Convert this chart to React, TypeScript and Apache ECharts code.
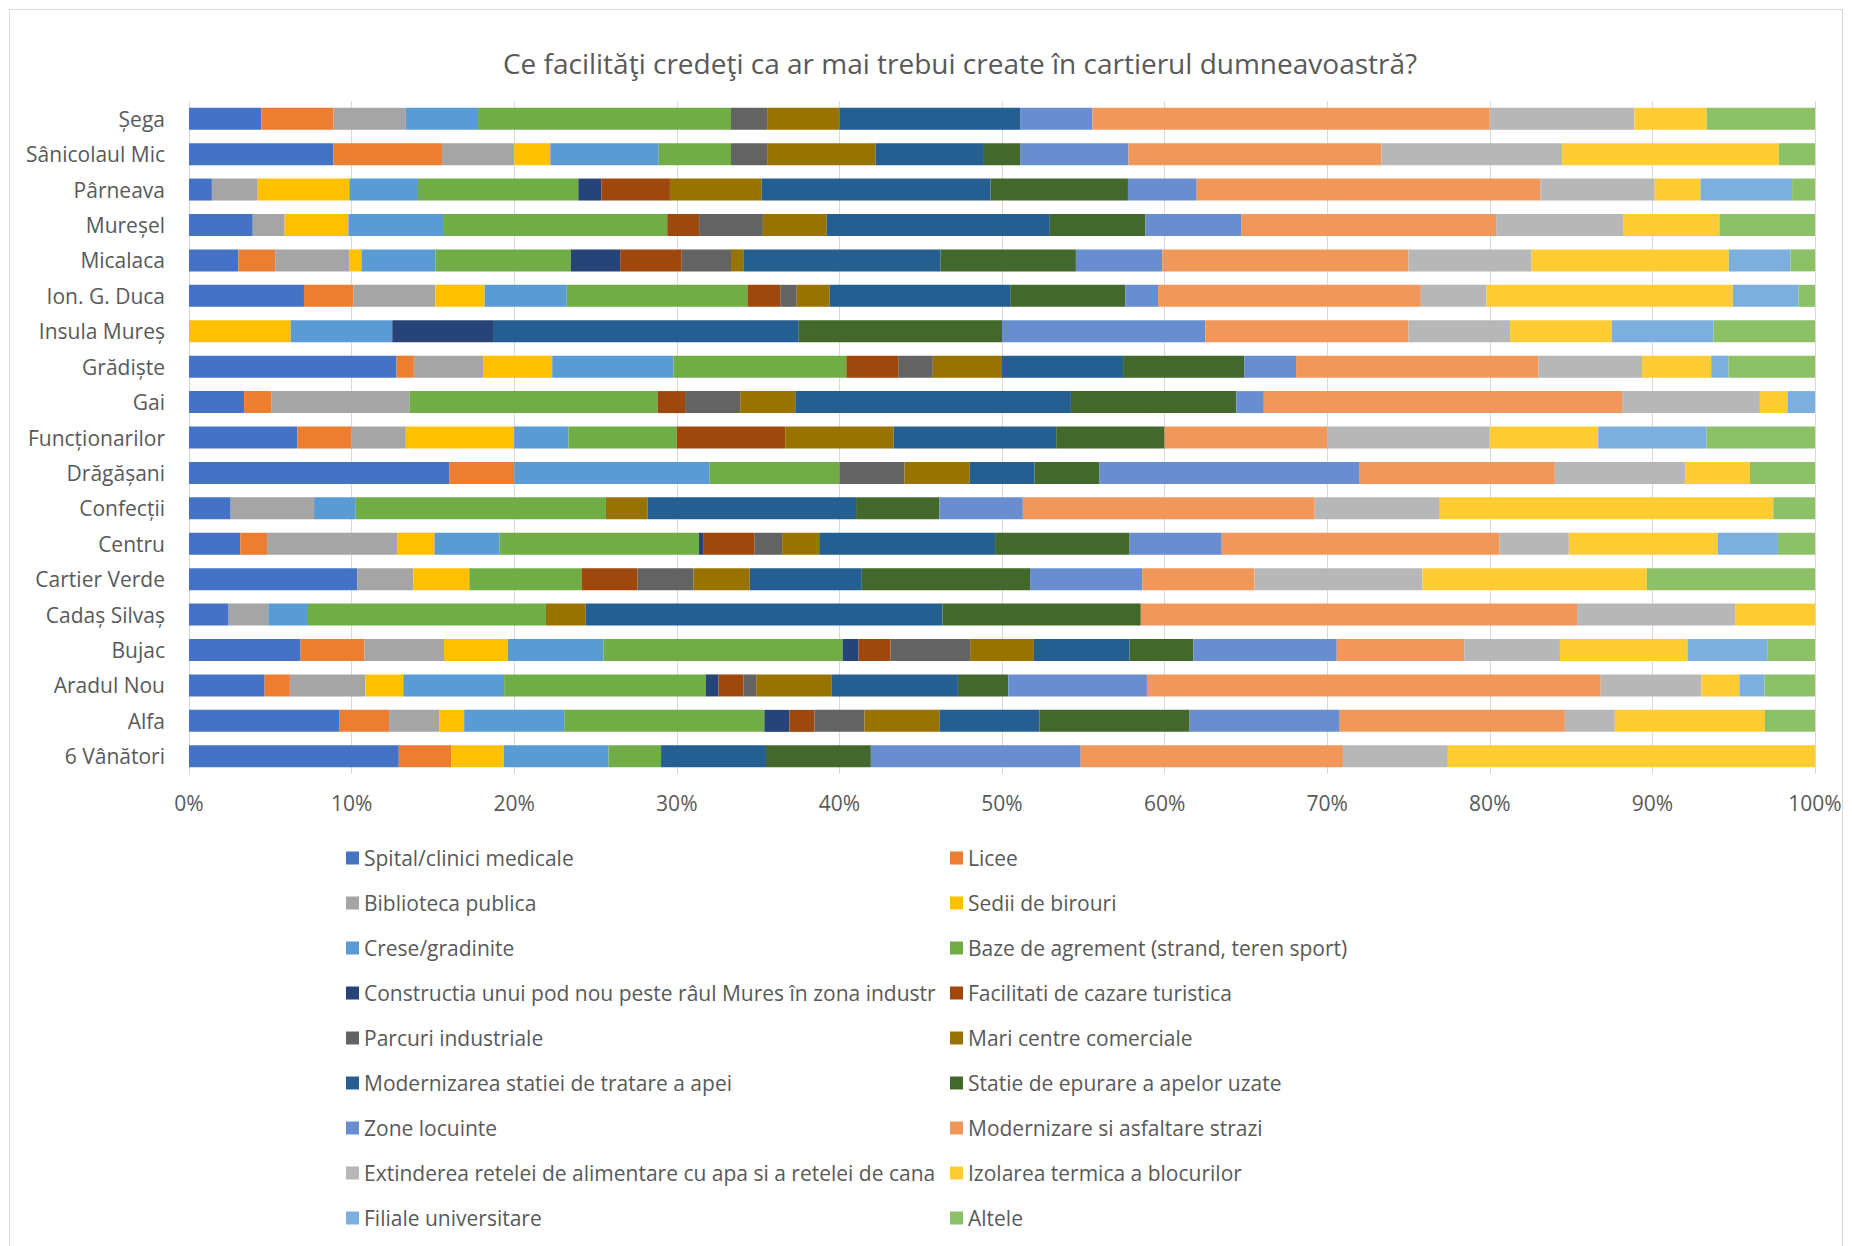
import React, { useEffect, useRef } from "react";
import * as echarts from "echarts";

// Categories, top to bottom as in the reference
const categories = [
  "Șega", "Sânicolaul Mic", "Pârneava", "Mureșel", "Micalaca", "Ion. G. Duca",
  "Insula Mureș", "Grădiște", "Gai", "Funcționarilor", "Drăgășani", "Confecții",
  "Centru", "Cartier Verde", "Cadaș Silvaș", "Bujac", "Aradul Nou", "Alfa", "6 Vânători",
];

const seriesNames = [
  "Spital/clinici medicale",
  "Licee",
  "Biblioteca publica",
  "Sedii de birouri",
  "Crese/gradinite",
  "Baze de agrement (strand, teren sport)",
  "Constructia unui pod nou peste râul Mures în zona industr",
  "Facilitati de cazare turistica",
  "Parcuri industriale",
  "Mari centre comerciale",
  "Modernizarea statiei de tratare a apei",
  "Statie de epurare a apelor uzate",
  "Zone locuinte",
  "Modernizare si asfaltare strazi",
  "Extinderea retelei de alimentare cu apa si a retelei de cana",
  "Izolarea termica a blocurilor",
  "Filiale universitare",
  "Altele",
];

const seriesColors = [
  "#4472C4", "#ED7D31", "#A5A5A5", "#FFC000", "#5B9BD5", "#70AD47",
  "#264478", "#9E480E", "#636363", "#997300", "#255E91", "#43682B",
  "#698ED0", "#F1975A", "#B7B7B7", "#FFCD33", "#7CAFDD", "#8CC168",
];

// Responses per neighbourhood, in the series order above
const sega = [2, 2, 2, 0, 2, 7, 0, 0, 1, 2, 5, 0, 2, 11, 4, 2, 0, 3];
const sanicolaulMic = [4, 3, 2, 1, 3, 2, 0, 0, 1, 3, 3, 1, 3, 7, 5, 6, 0, 1];
const parneava = [1, 0, 2, 4, 3, 7, 1, 3, 0, 4, 10, 6, 3, 15, 5, 2, 4, 1];
const muresel = [2, 0, 1, 2, 3, 7, 0, 1, 2, 2, 7, 3, 3, 8, 4, 3, 0, 3];
const micalaca = [4, 3, 6, 1, 6, 11, 4, 5, 4, 1, 16, 11, 7, 20, 10, 16, 5, 2];
const ionGDuca = [7, 3, 5, 3, 5, 11, 0, 2, 1, 2, 11, 7, 2, 16, 4, 15, 4, 1];
const insulaMures = [0, 0, 0, 1, 1, 0, 1, 0, 0, 0, 3, 2, 2, 2, 1, 1, 1, 1];
const gradiste = [12, 1, 4, 4, 7, 10, 0, 3, 2, 4, 7, 7, 3, 14, 6, 4, 1, 5];
const gai = [2, 1, 5, 0, 0, 9, 0, 1, 2, 2, 10, 6, 1, 13, 5, 1, 1, 0];
const functionarilor = [2, 1, 1, 2, 1, 2, 0, 2, 0, 2, 3, 2, 0, 3, 3, 2, 2, 2];
const dragasani = [4, 1, 0, 0, 3, 2, 0, 0, 1, 1, 1, 1, 4, 3, 2, 1, 0, 1];
const confectii = [1, 0, 2, 0, 1, 6, 0, 0, 0, 1, 5, 2, 2, 7, 3, 8, 0, 1];
const centru = [3.15, 1.65, 8.0, 2.3, 4.0, 12.26, 0.26, 3.15, 1.71, 2.28, 10.82, 8.24, 5.7, 17.09, 4.26, 9.15, 3.71, 2.28];
const cartierVerde = [3, 0, 1, 1, 0, 2, 0, 1, 1, 1, 2, 3, 2, 2, 3, 4, 0, 3];
const cadasSilvas = [1, 0, 1, 0, 1, 6, 0, 0, 0, 1, 9, 5, 0, 11, 4, 2, 0, 0];
const bujac = [7, 4, 5, 4, 6, 15, 1, 2, 5, 4, 6, 4, 9, 8, 6, 8, 5, 3];
const aradulNou = [6, 2, 6, 3, 8, 16, 1, 2, 1, 6, 10, 4, 11, 36, 8, 3, 2, 4];
const alfa = [6, 2, 2, 1, 4, 8, 1, 1, 2, 3, 4, 6, 6, 9, 2, 6, 0, 2];
const vanatori6 = [4, 1, 0, 1, 2, 1, 0, 0, 0, 0, 2, 2, 4, 5, 2, 7, 0, 0];

const rows = [
  sega, sanicolaulMic, parneava, muresel, micalaca, ionGDuca, insulaMures,
  gradiste, gai, functionarilor, dragasani, confectii, centru, cartierVerde,
  cadasSilvas, bujac, aradulNou, alfa, vanatori6,
];

const titleText = "Ce facilităţi credeţi ca ar mai trebui create în cartierul dumneavoastră?";

const FONT = "'Open Sans', sans-serif";
const TEXT = "#595959";

export default function App() {
  const ref = useRef<HTMLDivElement>(null);
  useEffect(() => {
    const chart = echarts.init(ref.current!, null, { renderer: "svg" });
    const totals = rows.map((r) => r.reduce((a, b) => a + b, 0));
    const series = seriesNames.map((name, i) => ({
      name,
      type: "bar",
      stack: "total",
      barWidth: 22,
      itemStyle: { color: seriesColors[i] },
      emphasis: { disabled: true },
      data: rows.map((r, k) => (r[i] / totals[k]) * 100),
    }));
    const legendCommon = {
      orient: "vertical",
      top: 842,
      itemWidth: 13,
      itemHeight: 13,
      itemGap: 23,
      icon: "rect",
      selectedMode: false,
      textStyle: { fontFamily: FONT, fontSize: 21, color: TEXT, lineHeight: 22 },
    };
    chart.setOption({
      animation: false,
      textStyle: { fontFamily: FONT },
      graphic: [
        {
          type: "rect",
          shape: { x: 9.5, y: 9.5, width: 1833, height: 1262 },
          style: { fill: "none", stroke: "#d9d9d9", lineWidth: 1 },
          silent: true,
        },
        {
          type: "text",
          x: 960,
          y: 63,
          style: {
            text: titleText,
            fontFamily: FONT,
            fontSize: 28,
            fill: TEXT,
            align: "center",
            verticalAlign: "middle",
            textAlign: "center",
            textVerticalAlign: "middle",
          },
        },
      ],
      grid: { left: 189, right: 37, top: 101, bottom: 472, containLabel: false },
      xAxis: {
        type: "value",
        min: 0,
        max: 100,
        interval: 10,
        axisLabel: {
          formatter: "{value}%",
          fontFamily: FONT,
          fontSize: 21,
          color: TEXT,
          margin: 18,
        },
        splitLine: { show: true, lineStyle: { color: "#d9d9d9", width: 1 } },
        axisLine: { show: false },
        axisTick: { show: false },
      },
      yAxis: {
        type: "category",
        data: categories,
        inverse: true,
        axisLabel: { fontFamily: FONT, fontSize: 21, color: TEXT, margin: 24 },
        axisLine: { show: true, lineStyle: { color: "#d9d9d9", width: 1 } },
        axisTick: { show: false },
      },
      legend: [
        { ...legendCommon, left: 341, data: seriesNames.filter((_, i) => i % 2 === 0) },
        { ...legendCommon, left: 945, data: seriesNames.filter((_, i) => i % 2 === 1) },
      ],
      series,
    });
    return () => chart.dispose();
  }, []);
  return (
    <div
      ref={ref}
      style={{ position: "fixed", left: 0, top: 0, width: 1852, height: 1246, background: "#fff" }}
    />
  );
}
